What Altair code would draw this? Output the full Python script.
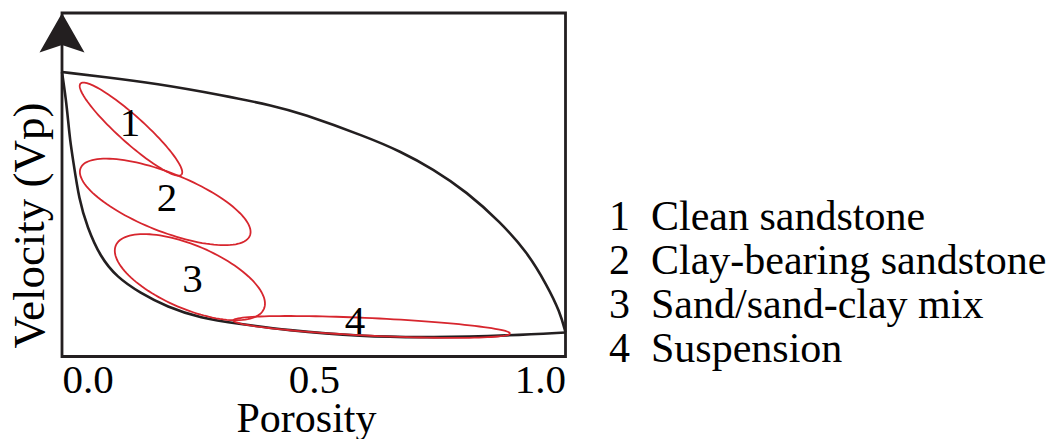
import math

import altair as alt
import pandas as pd

# Upper and lower bounds of P-wave velocity versus porosity (velocity normalised to 0..1)
UPPER_POROSITY = [0.0, 0.085, 0.185, 0.318, 0.423, 0.473, 0.606, 0.671, 0.737, 0.804,
                  0.870, 0.924, 0.963, 0.989, 1.0]
UPPER_VELOCITY = [0.828, 0.814, 0.795, 0.761, 0.729, 0.709, 0.639, 0.598, 0.546, 0.479,
                  0.392, 0.304, 0.208, 0.130, 0.070]
LOWER_POROSITY = [0.0, 0.008, 0.012, 0.016, 0.022, 0.034, 0.050, 0.076, 0.109, 0.155,
                  0.209, 0.274, 0.354, 0.443, 0.592, 0.737, 0.890, 1.0]
LOWER_VELOCITY = [0.828, 0.747, 0.689, 0.630, 0.572, 0.456, 0.377, 0.290, 0.231, 0.185,
                  0.144, 0.112, 0.095, 0.077, 0.058, 0.055, 0.061, 0.070]

# The four sediment classes, each outlined by a tilted ellipse
CLASS_IDS = ["1", "2", "3", "4"]
CLASS_NAMES = ["Clean sandstone", "Clay-bearing sandstone", "Sand/sand-clay mix", "Suspension"]
CENTER_POROSITY = [0.137, 0.205, 0.254, 0.615]
CENTER_VELOCITY = [0.662, 0.450, 0.231, 0.086]
SEMI_MAJOR = [0.135, 0.181, 0.160, 0.275]    # in porosity units
SEMI_MINOR = [0.026, 0.058, 0.063, 0.0175]   # in porosity units
TILT_DEG = [42.0, 21.7, 23.2, 2.7]           # clockwise tilt as seen on the plot
LABEL_POROSITY = [0.135, 0.2085, 0.259, 0.582]
LABEL_VELOCITY = [0.677, 0.4585, 0.2227, 0.1004]

X_TICKS = [0.0, 0.5, 1.0]

PLOT_W, PLOT_H = 503.5, 343.5
INK = "#231f20"
RED = "#d7262e"
FONT = "Liberation Serif"

bounds = pd.concat([
    pd.DataFrame({"bound": "upper", "porosity": UPPER_POROSITY, "velocity": UPPER_VELOCITY}),
    pd.DataFrame({"bound": "lower", "porosity": LOWER_POROSITY, "velocity": LOWER_VELOCITY}),
])

legend_labels = [f"{i}\u2002{n}" for i, n in zip(CLASS_IDS, CLASS_NAMES)]

# Outline of each class ellipse, traced in screen proportions so the tilt looks right
rows = []
steps = 120
for k, lab in enumerate(legend_labels):
    a = SEMI_MAJOR[k] * PLOT_W
    b = SEMI_MINOR[k] * PLOT_W
    th = math.radians(TILT_DEG[k])
    for s in range(steps + 1):
        t = 2 * math.pi * s / steps
        dx = a * math.cos(t) * math.cos(th) - b * math.sin(t) * math.sin(th)
        dy = a * math.cos(t) * math.sin(th) + b * math.sin(t) * math.cos(th)
        rows.append({
            "cls": lab,
            "step": s,
            "porosity": CENTER_POROSITY[k] + dx / PLOT_W,
            "velocity": CENTER_VELOCITY[k] - dy / PLOT_H,
        })
ellipses = pd.DataFrame(rows)

labels = pd.DataFrame({"id": CLASS_IDS, "porosity": LABEL_POROSITY, "velocity": LABEL_VELOCITY})

x_scale = alt.Scale(domain=[0, 1], nice=False, zero=False)
y_scale = alt.Scale(domain=[0, 1], nice=False, zero=False)

x_axis = alt.Axis(
    title="Porosity", values=X_TICKS, format=".1f", grid=False, ticks=False, tickSize=0,
    domain=False, labelFont=FONT, labelFontSize=41, labelColor="black", labelPadding=4,
    labelFlush=True, titleFont=FONT, titleFontSize=42, titleFontWeight="normal",
    titleColor="black", titleX=244, titleY=75, titleBaseline="alphabetic",
    titleAlign="center",
)
y_axis = alt.Axis(
    title="Velocity (Vp)", labels=False, grid=False, ticks=False, tickSize=0, domain=False,
    titleFont=FONT, titleFontSize=45, titleFontWeight="normal", titleColor="black",
    titleAngle=270, titleX=-19, titleY=212, titleBaseline="alphabetic",
    titleAlign="center",
)

curves = alt.Chart(bounds).mark_line(
    color=INK, strokeWidth=2.6, interpolate="basis"
).encode(
    x=alt.X("porosity:Q", scale=x_scale, axis=x_axis),
    y=alt.Y("velocity:Q", scale=y_scale, axis=y_axis),
    detail="bound:N",
)

outlines = alt.Chart(ellipses).mark_line(strokeWidth=1.8).encode(
    x=alt.X("porosity:Q", scale=x_scale),
    y=alt.Y("velocity:Q", scale=y_scale),
    order="step:Q",
    color=alt.Color(
        "cls:N",
        scale=alt.Scale(domain=legend_labels, range=[RED] * len(legend_labels)),
        legend=alt.Legend(
            title=None, orient="none", legendX=505, legendY=183, padding=0,
            labelFont=FONT, labelFontSize=42, labelColor="black", labelLimit=0,
            symbolOpacity=0, symbolSize=0, symbolStrokeWidth=0, labelOffset=0,
            rowPadding=2,
        ),
    ),
)

numbers = alt.Chart(labels).mark_text(
    font=FONT, fontSize=41, color="black", baseline="middle", align="center"
).encode(
    x=alt.X("porosity:Q", scale=x_scale),
    y=alt.Y("velocity:Q", scale=y_scale),
    text="id:N",
)

# Arrowhead capping the velocity axis
arrow = alt.Chart(pd.DataFrame({"porosity": [0.0], "velocity": [1.0]})).mark_point(
    shape="M0,0 L1,1.756 L0,1.42 L-1,1.756 Z", size=2025, filled=True,
    color=INK, opacity=1, strokeWidth=0,
).encode(
    x=alt.X("porosity:Q", scale=x_scale),
    y=alt.Y("velocity:Q", scale=y_scale),
)

chart = alt.layer(curves, outlines, numbers, arrow).properties(
    width=PLOT_W,
    height=PLOT_H,
    padding={"left": 62, "top": 13, "right": 1057 - 62 - PLOT_W, "bottom": 439 - 13 - PLOT_H},
    autosize=alt.AutoSizeParams(type="none"),
    background="white",
).configure(
    font=FONT,
).configure_view(
    stroke=INK, strokeWidth=2.8,
).configure_legend(
    labelFont=FONT, labelFontSize=42, labelColor="black",
)

chart.save("out.html", embed_options={"renderer": "svg", "actions": False})
